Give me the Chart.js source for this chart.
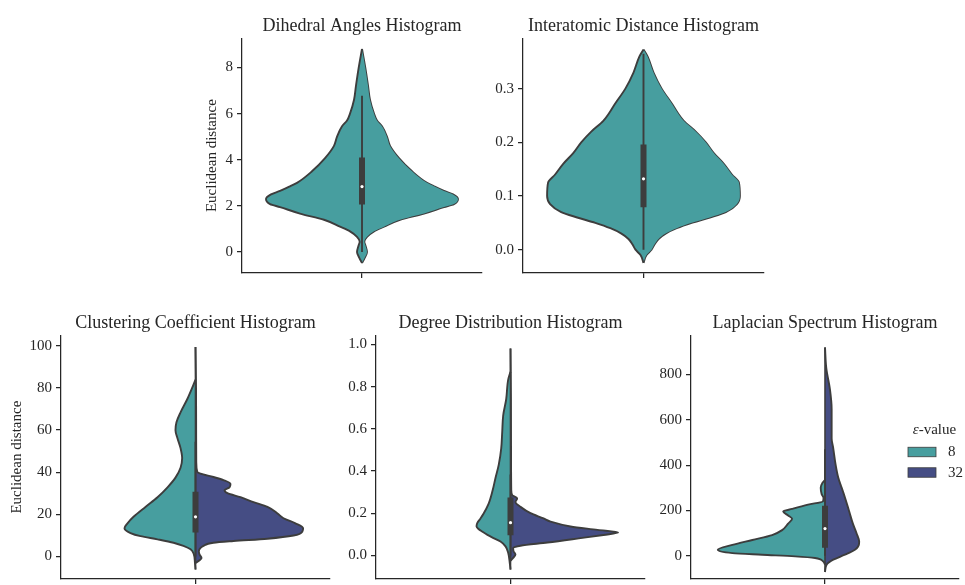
<!DOCTYPE html>
<html>
<head>
<meta charset="utf-8">
<script src="https://cdn.jsdelivr.net/npm/chart.js@4.4.1/dist/chart.umd.min.js"></script>
<style>
  html, body { margin: 0; padding: 0; background: #ffffff; overflow: hidden; width: 965px; height: 585px; }
  canvas { position: absolute; }
</style>
</head>
<body>
<canvas id="dihedral"></canvas>
<canvas id="interatomic"></canvas>
<canvas id="clustering"></canvas>
<canvas id="degree"></canvas>
<canvas id="laplacian"></canvas>
<script>
// ---- data -------------------------------------------------------------
// ε-value groups shown in the split violins
const groupLabels = ['8', '32'];

// Kernel density outlines: value levels and relative density (1 = widest half)
// Dihedral angles (ε = 8 only)
const dihedralValues  = [-0.47, -0.25, 0, 0.31, 0.45, 0.66, 0.9, 1.1, 1.4, 1.67, 1.95, 2.08, 2.3, 2.5, 2.65, 2.85, 3.0, 3.5, 4.07, 4.6, 5.0, 5.45, 5.7, 6.0, 6.6, 7.2, 8.0, 8.8];
const dihedralDensity = [0, 0.028, 0.052, 0.034, 0.024, 0.052, 0.125, 0.229, 0.396, 0.646, 0.854, 0.958, 1.0, 0.948, 0.854, 0.75, 0.677, 0.521, 0.385, 0.292, 0.26, 0.208, 0.156, 0.125, 0.083, 0.063, 0.034, 0];
const dihedralBox     = [0, 2.06, 2.84, 4.10, 6.77];   // whisker low, Q1, median, Q3, whisker high
const dihedralTicks   = [0, 2, 4, 6, 8];

// Interatomic distance (ε = 8 only)
const interValues  = [-0.0245, -0.01, 0.0, 0.01, 0.02, 0.03, 0.04, 0.05, 0.06, 0.07, 0.085, 0.1, 0.125, 0.14, 0.16, 0.18, 0.2, 0.22, 0.24, 0.255, 0.27, 0.3, 0.33, 0.36, 0.373];
const interDensity = [0, 0.031, 0.083, 0.115, 0.156, 0.229, 0.344, 0.5, 0.688, 0.854, 0.969, 1.0, 0.99, 0.917, 0.833, 0.729, 0.646, 0.542, 0.417, 0.354, 0.302, 0.188, 0.104, 0.042, 0];
const interBox     = [0.0, 0.079, 0.132, 0.196, 0.365];
const interTicks   = [0.0, 0.1, 0.2, 0.3];

// Clustering coefficient, ε = 8 (left) and ε = 32 (right)
const clusterValues8   = [-6.2, -3.1, 1.1, 3.4, 5.0, 6.5, 8.1, 9.6, 11.1, 13.4, 15.7, 18.8, 23.5, 28.1, 32.8, 37.4, 42.1, 46.7, 51.4, 56, 59.9, 63.7, 68.4, 74.6, 80, 84];
const clusterDensity8  = [0, 0.005, 0.016, 0.046, 0.112, 0.204, 0.353, 0.511, 0.604, 0.66, 0.632, 0.576, 0.465, 0.353, 0.26, 0.186, 0.139, 0.124, 0.139, 0.167, 0.186, 0.177, 0.139, 0.077, 0.031, 0];
const clusterValues32  = [-3.1, -0.8, 1.0, 2.3, 5.0, 6.5, 7.3, 8.4, 9.9, 11.9, 13.4, 15.7, 18.1, 20.4, 23.5, 25.8, 28.1, 30, 31.5, 32.8, 34.4, 36.2, 37.7, 39.3, 40.2, 45, 60, 80, 99.4];
const clusterDensity32 = [0, 0.056, 0.037, 0.031, 0.074, 0.167, 0.353, 0.669, 0.911, 0.994, 1.0, 0.929, 0.818, 0.762, 0.669, 0.539, 0.418, 0.297, 0.27, 0.316, 0.325, 0.26, 0.167, 0.046, 0.016, 0.007, 0.006, 0.005, 0];
const clusterBox       = [0, 11.3, 18.8, 30.7, 54.4];
const clusterTicks     = [0, 20, 40, 60, 80, 100];

// Degree distribution, ε = 8 (left) and ε = 32 (right)
const degreeValues8   = [-0.067, -0.035, 0.012, 0.043, 0.066, 0.082, 0.097, 0.112, 0.125, 0.138, 0.155, 0.175, 0.197, 0.244, 0.306, 0.368, 0.43, 0.508, 0.585, 0.663, 0.74, 0.834, 0.87];
const degreeDensity8  = [0, 0.007, 0.021, 0.046, 0.093, 0.158, 0.214, 0.26, 0.297, 0.316, 0.307, 0.279, 0.251, 0.204, 0.167, 0.139, 0.109, 0.086, 0.077, 0.068, 0.04, 0.021, 0];
const degreeValues32  = [-0.025, -0.015, 0.004, 0.02, 0.035, 0.046, 0.061, 0.082, 0.097, 0.108, 0.121, 0.137, 0.16, 0.175, 0.2, 0.23, 0.253, 0.27, 0.285, 0.31, 0.5, 0.75, 0.98];
const degreeDensity32 = [0, 0.019, 0.046, 0.028, 0.025, 0.093, 0.344, 0.651, 0.864, 1.0, 0.809, 0.558, 0.372, 0.307, 0.186, 0.093, 0.046, 0.062, 0.016, 0.007, 0.005, 0.004, 0];
const degreeBox       = [0.0, 0.096, 0.155, 0.275, 0.384];
const degreeTicks     = [0.0, 0.2, 0.4, 0.6, 0.8, 1.0];

// Laplacian spectrum, ε = 8 (left) and ε = 32 (right)
const laplaceValues8   = [-39, -24.7, -10.2, -3, 4.3, 11.5, 26, 47.7, 69.4, 91.1, 112.8, 141.7, 163.4, 177.9, 195.2, 206.8, 225.6, 240, 255, 272, 300, 322, 335];
const laplaceDensity8  = [0, 0.019, 0.093, 0.279, 0.586, 0.864, 1.0, 0.864, 0.678, 0.493, 0.4, 0.344, 0.307, 0.344, 0.39, 0.307, 0.158, 0.019, 0.014, 0.031, 0.04, 0.023, 0];
const laplaceValues32  = [-72, -39, -17.4, 4.3, 26, 40.4, 62, 98.3, 141.7, 199.5, 257.4, 300.8, 344.2, 402, 474.4, 517.8, 648, 735, 828, 920];
const laplaceDensity32 = [0, 0.016, 0.077, 0.186, 0.279, 0.309, 0.319, 0.295, 0.26, 0.223, 0.186, 0.155, 0.124, 0.099, 0.077, 0.062, 0.062, 0.046, 0.012, 0];
const laplaceBox       = [0, 35, 120, 221, 470];
const laplaceTicks     = [0, 200, 400, 600, 800];

// ---- styling ------------------------------------------------------------
const SERIF = '"Liberation Serif", "DejaVu Serif", serif';
const INK = '#262626';
const EDGE = '#3d3d3d';
const COLOR_8 = '#479e9f';
const COLOR_32 = '#454d84';
const HALF_WIDTH = 0.4;          // widest half-violin, in category units
const Y_AXIS_W = 61;             // room for tick labels and the axis title
const TITLE_SIZE = 18;
const TITLE_PAD = { top: 2, bottom: 0.75 };
const TITLE_H = TITLE_PAD.top + TITLE_SIZE * 1.25 + TITLE_PAD.bottom;
const X_AXIS_H = 8;
const PAD_R = 4;
const LABEL_SIZE = 15;

function halfViolin(values, density, side, color, fill) {
  return {
    data: values.map((v, i) => ({ x: side * density[i] * HALF_WIDTH, y: v })),
    borderColor: EDGE,
    borderWidth: 1.9,
    backgroundColor: color,
    fill: fill,
    pointRadius: 0,
    cubicInterpolationMode: 'monotone',
    order: 6
  };
}

function centerLine(lo, hi, width, order) {
  return {
    data: [{ x: 0, y: lo }, { x: 0, y: hi }],
    borderColor: EDGE,
    borderWidth: width,
    borderCapStyle: 'butt',
    pointRadius: 0,
    fill: false,
    order: order
  };
}

function boxDatasets(box) {
  return [
    centerLine(box[0], box[4], 1.9, 3),
    centerLine(box[1], box[3], 6, 2),
    {
      data: [{ x: 0, y: box[2] }],
      showLine: false,
      pointRadius: 1.6,
      pointBackgroundColor: '#ffffff',
      pointBorderWidth: 0,
      order: 1
    }
  ];
}

function symmetricViolin(values, density, color, box) {
  return [
    halfViolin(values, density, -1, color, '+1'),
    halfViolin(values, density, 1, color, false),
    ...boxDatasets(box)
  ];
}

function splitViolin(values8, density8, values32, density32, box) {
  const lo = Math.min(values8[0], values32[0]);
  const hi = Math.max(values8[values8.length - 1], values32[values32.length - 1]);
  return [
    halfViolin(values8, density8, -1, COLOR_8, 'origin'),
    halfViolin(values32, density32, 1, COLOR_32, 'origin'),
    centerLine(lo, hi, 1.6, 4),
    ...boxDatasets(box)
  ];
}

// ε-value legend drawn inside the last panel
const groupLegend = {
  id: 'groupLegend',
  afterDraw(chart) {
    const { ctx, chartArea } = chart;
    const r = chartArea.right, t = chartArea.top;
    ctx.save();
    ctx.fillStyle = INK;
    ctx.textBaseline = 'middle';
    ctx.textAlign = 'left';
    const eps = 'ε', rest = '-value';
    ctx.font = LABEL_SIZE + 'px ' + SERIF;
    const wRest = ctx.measureText(rest).width;
    ctx.font = 'italic ' + LABEL_SIZE + 'px ' + SERIF;
    const wEps = ctx.measureText(eps).width;
    const x0 = r - 24.5 - (wEps + wRest) / 2;
    ctx.fillText(eps, x0, t + 94.5);
    ctx.font = LABEL_SIZE + 'px ' + SERIF;
    ctx.fillText(rest, x0 + wEps, t + 94.5);
    const colors = [COLOR_8, COLOR_32];
    groupLabels.forEach((label, i) => {
      const y = t + 112 + i * 20.5;
      ctx.fillStyle = colors[i];
      ctx.fillRect(r - 51, y, 28, 9.5);
      ctx.strokeStyle = EDGE;
      ctx.lineWidth = 0.8;
      ctx.strokeRect(r - 51, y, 28, 9.5);
      ctx.fillStyle = INK;
      ctx.fillText(label, r - 11, y + 5);
    });
    ctx.restore();
  }
};

function panel(id, area, title, datasets, yMin, yMax, ticks, decimals, yTitle, plugins) {
  const canvas = document.getElementById(id);
  const [left, top, right, bottom] = area;
  canvas.width = Y_AXIS_W + (right - left) + PAD_R;
  canvas.height = Math.ceil(TITLE_H + (bottom - top) + X_AXIS_H);
  canvas.style.left = (left - Y_AXIS_W) + 'px';
  canvas.style.top = (top - TITLE_H) + 'px';
  const tickFont = { family: SERIF, size: LABEL_SIZE };
  return new Chart(canvas, {
    type: 'line',
    data: { datasets },
    plugins: plugins || [],
    options: {
      indexAxis: 'y',
      responsive: false,
      animation: false,
      events: [],
      layout: { padding: { left: 0, right: PAD_R, top: 0, bottom: canvas.height - (TITLE_H + (bottom - top) + X_AXIS_H) } },
      plugins: {
        legend: { display: false },
        tooltip: { enabled: false },
        title: {
          display: true,
          text: title,
          fullSize: false,
          color: INK,
          font: { family: SERIF, size: TITLE_SIZE, weight: 'normal', lineHeight: 1.25 },
          padding: TITLE_PAD
        }
      },
      scales: {
        x: {
          type: 'linear',
          min: -0.5,
          max: 0.5,
          afterBuildTicks: s => { s.ticks = [{ value: 0 }]; },
          afterFit: s => { s.height = X_AXIS_H; },
          ticks: { callback: () => '', padding: 0 },
          grid: { drawOnChartArea: false, tickLength: 5, color: INK, lineWidth: 1.25 },
          border: { color: INK, width: 1.25 }
        },
        y: {
          type: 'linear',
          min: yMin,
          max: yMax,
          afterBuildTicks: s => { s.ticks = ticks.map(v => ({ value: v })); },
          afterFit: s => { s.width = Y_AXIS_W; },
          ticks: { callback: v => Number(v).toFixed(decimals), font: tickFont, color: INK, padding: 4 },
          grid: { drawOnChartArea: false, tickLength: 5, color: INK, lineWidth: 1.25 },
          border: { color: INK, width: 1.25 },
          title: yTitle
            ? { display: true, text: yTitle.text, color: INK, font: tickFont, padding: { top: yTitle.pad, bottom: 0 } }
            : { display: false }
        }
      }
    }
  });
}

panel('dihedral', [242, 38, 482, 277], 'Dihedral Angles Histogram',
  symmetricViolin(dihedralValues, dihedralDensity, COLOR_8, dihedralBox),
  -0.906, 9.264, dihedralTicks, 0, { text: 'Euclidean distance', pad: 22.5 });

panel('interatomic', [523, 38, 764, 277], 'Interatomic Distance Histogram',
  symmetricViolin(interValues, interDensity, COLOR_8, interBox),
  -0.0434, 0.3938, interTicks, 1, null);

panel('clustering', [61, 335, 330, 583], 'Clustering Coefficient Histogram',
  splitViolin(clusterValues8, clusterDensity8, clusterValues32, clusterDensity32, clusterBox),
  -10.73, 105.0, clusterTicks, 0, { text: 'Euclidean distance', pad: 8 });

panel('degree', [376, 335, 645, 583], 'Degree Distribution Histogram',
  splitViolin(degreeValues8, degreeDensity8, degreeValues32, degreeDensity32, degreeBox),
  -0.1118, 1.0433, degreeTicks, 1, null);

panel('laplacian', [691, 335, 959, 583], 'Laplacian Spectrum Histogram',
  splitViolin(laplaceValues8, laplaceDensity8, laplaceValues32, laplaceDensity32, laplaceBox),
  -102.9, 973.6, laplaceTicks, 0, null, [groupLegend]);
</script>
</body>
</html>
